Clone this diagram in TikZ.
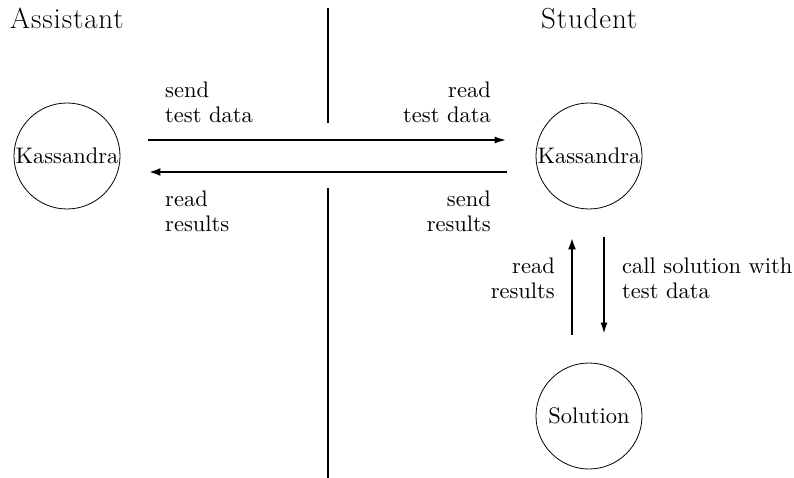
\documentclass[tikz,border=0pt]{standalone}
\usetikzlibrary{arrows.meta}
\font\lblfont="[lmroman10-regular]:mapping=tex-text" at 22.5pt
\font\hdrfont="[lmroman17-regular]:mapping=tex-text;letterspace=3" at 29pt
\newcommand\lblsetup{\lblfont\baselineskip=25pt\relax}
\begin{document}
\begin{tikzpicture}[x=1pt,y=-1pt,
  lbl/.style={font=\lblsetup, inner sep=0pt},
  hdr/.style={font=\hdrfont, inner sep=0pt, anchor=base west},
  bubble/.style={draw, circle, minimum size=106pt, inner sep=0pt, line width=0.8pt, font=\lblfont},
  thinarr/.style={line width=2pt, -{Latex[length=12pt,width=7pt]}},
  thickarr/.style={line width=2.8pt, -{Latex[length=12pt,width=8pt]}},
  divider/.style={line width=2pt}
]
\useasboundingbox (0,0) rectangle (794,478);
% headers
\node[hdr] (ha) at (10,29) {Assistant};
\node[hdr] (hs) at (541,29) {Student};
% bubbles
\node[bubble] (ka) at (67,156) {\makebox[0pt]{Kassandra}};
\node[bubble] (ks) at (589,156) {\makebox[0pt]{Kassandra}};
\node[bubble] (so) at (589,416) {\makebox[0pt]{Solution}};
% divider
\coordinate (d1) at (328,8);
\coordinate (d2) at (328,123);
\coordinate (d3) at (328,188);
\coordinate (d4) at (328,478);
\draw[divider] (d1) -- (d2) (d3) -- (d4);
% horizontal arrows
\draw[thinarr, shorten <=28pt, shorten >=29pt] ([yshift=16pt]ka.east) -- ([yshift=16pt]ks.west);
\draw[thickarr, shorten <=29pt, shorten >=28pt] ([yshift=-16pt]ks.west) -- ([yshift=-16pt]ka.east);
% vertical arrows
\draw[thickarr, shorten <=28pt, shorten >=28pt] ([xshift=-17pt]so.north) -- ([xshift=-17pt]ks.south);
\draw[thinarr, line width=2.3pt, shorten <=28pt, shorten >=28pt] ([xshift=15pt]ks.south) -- ([xshift=15pt]so.north);
% labels
\node[lbl, align=left, anchor=base west] (l1) at (165,123) {send\\test data};
\node[lbl, align=right, anchor=base east] (l2) at (491,123) {read\\test data};
\node[lbl, align=left, anchor=base west] (l3) at (165,232) {read\\results};
\node[lbl, align=right, anchor=base east] (l4) at (491,232) {send\\results};
\node[lbl, align=right, anchor=base east] (l5) at (555,298) {read\\results};
\node[lbl, align=left, anchor=base west] (l6) at (622,298) {call solution with\\test data};
\end{tikzpicture}
\end{document}
